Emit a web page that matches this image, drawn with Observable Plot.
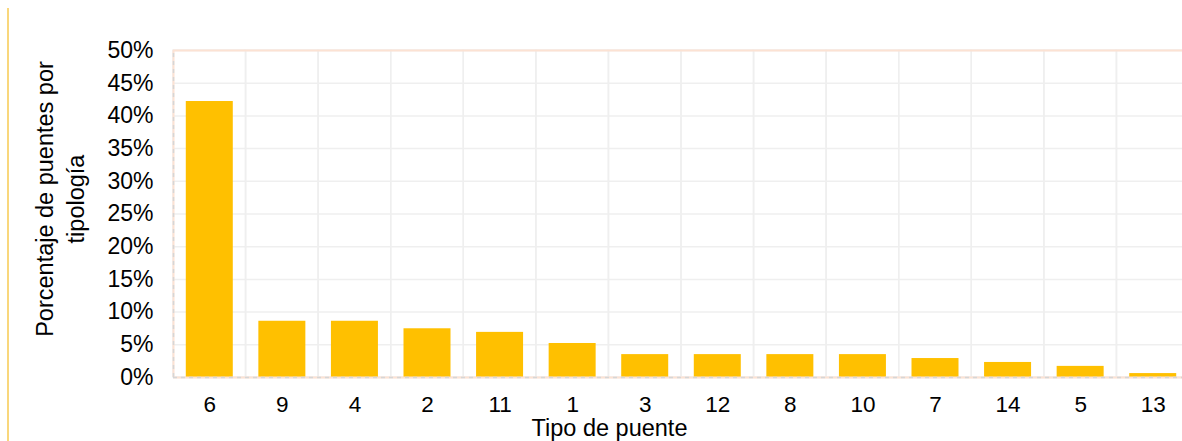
<!DOCTYPE html>
<html>
<head>
<meta charset="utf-8">
<script src="https://cdn.jsdelivr.net/npm/d3@7"></script>
<script src="https://cdn.jsdelivr.net/npm/@observablehq/plot@0.6"></script>
<style>
  body { margin: 0; background: #fff; }
  #chart { position: relative; width: 1182px; height: 441px; overflow: hidden; font-family: "Liberation Sans", Arial, sans-serif; }
  #chart .edge { position: absolute; left: 7px; top: 8px; bottom: 0; width: 1.5px; background: #f9d77c; }
  #chart svg { position: absolute; left: 0; top: 0; max-width: none; }
</style>
</head>
<body>
<div id="chart"><div class="edge"></div></div>
<script>
// Bridge types, ordered by share
const tipos = ["6", "9", "4", "2", "11", "1", "3", "12", "8", "10", "7", "14", "5", "13"];
// Share of bridges per type (%)
const porcentajes = [42.2, 8.6, 8.6, 7.45, 6.9, 5.2, 3.5, 3.5, 3.5, 3.5, 2.9, 2.3, 1.7, 0.6];
// Y axis ticks (%)
const yTicks = [0, 5, 10, 15, 20, 25, 30, 35, 40, 45, 50];

const xTitle = "Tipo de puente";
const yTitle = "Porcentaje de puentes por\ntipología";

const data = tipos.map((t, i) => ({ tipo: t, pct: porcentajes[i] }));

const gridColor = "#efefef";
const step = (1189 - 173) / tipos.length;
const barWidth = 47;
const inset = (step - barWidth) / 2;

const chart = Plot.plot({
  width: 1190,
  height: 441,
  marginTop: 50,
  marginBottom: 64,
  marginLeft: 173,
  marginRight: 1,
  style: { fontFamily: "'Liberation Sans', Arial, sans-serif", fontSize: "22px", color: "#000", background: "transparent", maxWidth: "none" },
  x: { domain: tipos, padding: 0, round: false, label: null },
  y: { domain: [0, 50], label: null },
  marks: [
    // horizontal gridlines
    Plot.ruleY(yTicks, { stroke: gridColor, strokeWidth: 1.5 }),
    // vertical gridlines at category boundaries
    Plot.barY(tipos, { x: d => d, y1: 0, y2: 50, fill: "none", stroke: gridColor, strokeWidth: 1.5 }),
    // bars
    Plot.barY(data, { x: "tipo", y: "pct", fill: "#ffc000", insetLeft: inset, insetRight: inset }),
    // plot-area border
    Plot.ruleY([50], { stroke: "#fce2d3", strokeWidth: 2 }),
    Plot.ruleY([0], { stroke: "#fce2d3", strokeWidth: 2 }),
    Plot.ruleY([0], { stroke: "#d6d6d6", strokeWidth: 1.5, strokeDasharray: "4,4" }),
    Plot.ruleX([tipos[0]], { y1: 0, y2: 50, dx: -step / 2, stroke: "#fce2d3", strokeWidth: 2 }),
    Plot.ruleX([tipos[0]], { y1: 0, y2: 50, dx: -step / 2, stroke: "#d6d6d6", strokeWidth: 1.5, strokeDasharray: "4,4" }),
    // axes
    Plot.axisX({ tickSize: 0, tickPadding: 19, fontSize: 22.5, label: null }),
    Plot.axisY({ ticks: yTicks, tickSize: 0, tickPadding: 20, fontSize: 23, tickFormat: d => d + "%", label: null }),
    // axis titles
    Plot.text([xTitle], { frameAnchor: "bottom", textAnchor: "middle", lineAnchor: "middle", dx: -72, dy: 51, fontSize: 23.5, fill: "#000" }),
    Plot.text([yTitle], { frameAnchor: "left", textAnchor: "middle", lineAnchor: "middle", rotate: -90, dx: -115, dy: -15, fontSize: 23.5, lineHeight: 1.3, fill: "#000" })
  ]
});

document.getElementById("chart").appendChild(chart);
</script>
</body>
</html>
